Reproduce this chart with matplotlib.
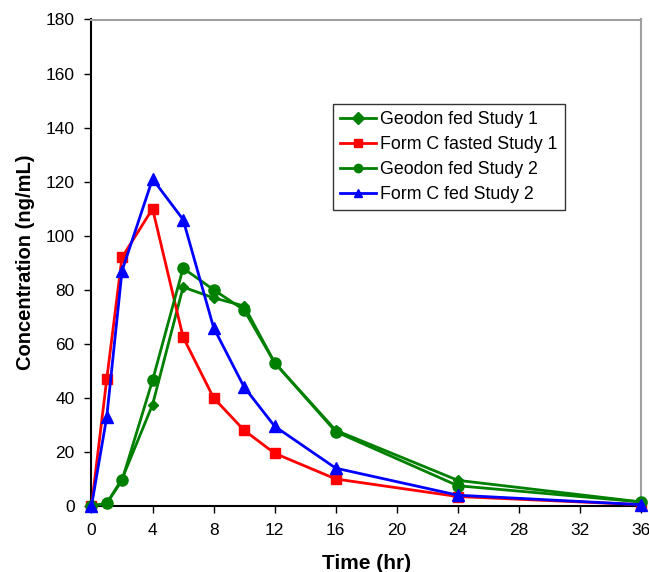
import matplotlib
matplotlib.use("Agg")
import matplotlib.pyplot as plt

plt.rcParams['font.family'] = ['Liberation Sans', 'DejaVu Sans']

time_hr = [0, 1, 2, 4, 6, 8, 10, 12, 16, 24, 36]
geodon_fed_s1 = [0, 1, 10, 37.5, 81, 77, 74, 53, 28, 9.5, 1.5]
formc_fasted_s1 = [0, 47, 92, 110, 62.5, 40, 28, 19.5, 10, 3.5, 0.5]
geodon_fed_s2 = [0, 1, 9.5, 46.5, 88, 80, 72.5, 53, 27.5, 7.5, 1.5]
formc_fed_s2 = [0, 33, 87, 121, 106, 66, 44, 29.5, 14, 4, 0.5]

labels = ["Geodon fed Study 1", "Form C fasted Study 1",
          "Geodon fed Study 2", "Form C fed Study 2"]
xticks = [0, 4, 8, 12, 16, 20, 24, 28, 32, 36]
yticks = [0, 20, 40, 60, 80, 100, 120, 140, 160, 180]

fig = plt.figure(figsize=(6.49, 5.72), dpi=100)
ax = fig.add_axes([91.5/649, 1-506/572, (641-91.5)/649, (506-19.5)/572])

green = '#008000'
ax.plot(time_hr, geodon_fed_s1, color=green, marker='D', markersize=5, lw=2, label=labels[0], clip_on=False, zorder=3)
ax.plot(time_hr, formc_fasted_s1, color='#ff0000', marker='s', markersize=7, lw=2, label=labels[1], clip_on=False, zorder=3)
ax.plot(time_hr, geodon_fed_s2, color=green, marker='o', markersize=8, lw=2, label=labels[2], clip_on=False, zorder=3)
ax.plot(time_hr, formc_fed_s2, color='#0000ff', marker='^', markersize=8, lw=2, label=labels[3], clip_on=False, zorder=3)

ax.set_xlim(0, 36)
ax.set_ylim(0, 180)
ax.set_xticks(xticks)
ax.set_yticks(yticks)
ax.tick_params(direction='out', length=5, width=1, labelsize=12.5, colors='black', pad=7)
for s in ['left', 'bottom']:
    ax.spines[s].set_color('black')
    ax.spines[s].set_linewidth(1.5)
for s in ['top', 'right']:
    ax.spines[s].set_color('#a0a0a0')
    ax.spines[s].set_linewidth(1.5)

ax.set_xlabel('Time (hr)', fontsize=15, fontweight='bold', labelpad=12)
ax.set_ylabel('Concentration (ng/mL)', fontsize=14.5, fontweight='bold', labelpad=8)

leg = ax.legend(loc='upper left', bbox_to_anchor=((333-91.5)/549.5, (506-104)/486.5),
                fontsize=12.8, frameon=True, fancybox=False, edgecolor='black',
                handlelength=2.0, handletextpad=0.25, borderpad=0.4, labelspacing=0.45,
                borderaxespad=0)
leg.get_frame().set_linewidth(1)
for h in leg.legend_handles:
    h.set_markersize(6)

fig.savefig('out.png', dpi=100)
